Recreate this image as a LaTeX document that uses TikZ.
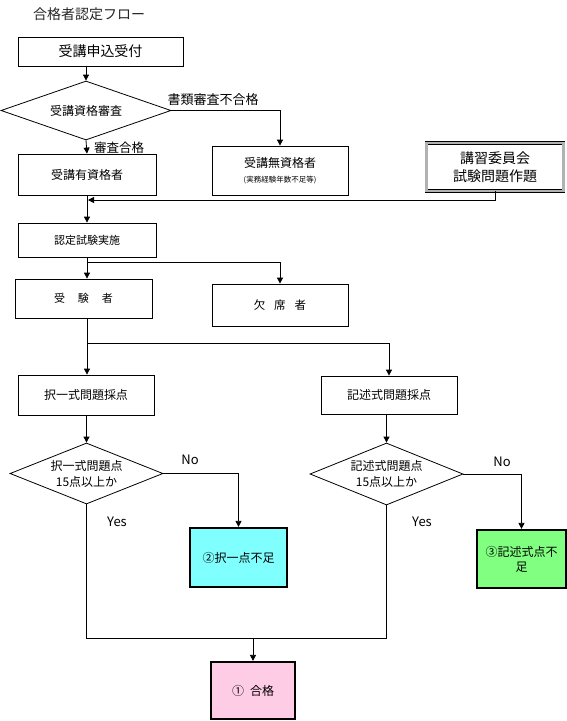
\documentclass[tikz,border=0pt]{standalone}
\usepackage{fontspec}
\setmainfont{Noto Sans CJK JP}
\usetikzlibrary{shapes.geometric,arrows.meta,calc}
\newcommand\fsz[2]{\fontsize{#1}{#2}\selectfont}
\definecolor{cyanc}{HTML}{80FFFF}
\definecolor{greenc}{HTML}{80FF80}
\definecolor{pinkc}{HTML}{FFCCE6}
\begin{document}
\begin{tikzpicture}[x=1pt,y=-1pt,
  box/.style={draw,line width=0.8pt,rectangle,inner sep=0pt,align=center},
  cbox/.style={draw,line width=2.2pt,rectangle,inner sep=0pt,align=center,font=\fsz{12}{15}},
  dia/.style={draw,line width=0.8pt,diamond,inner sep=0pt,align=center},
  ln/.style={line width=0.8pt},
  arr/.style={line width=0.8pt,-{Triangle[length=6pt,width=6pt]}},
  lbl/.style={inner sep=0pt}
]
\useasboundingbox[fill=white] (0,0) rectangle (567,721);

\node[lbl,anchor=west,font=\fsz{14}{16},text=black!85] (title) at (33,14) {合格者認定フロー};
\node[box,minimum width=165pt,minimum height=29pt,font=\fsz{14}{16}] (apply) at (100.5,51.5) {受講申込受付};
\node[dia,shape aspect=2.9,minimum width=170pt,minimum height=59pt,font=\fsz{12}{14}] (d1) at (86,110.5) {受講資格審査};
\node[box,minimum width=138pt,minimum height=41pt,font=\fsz{12}{14}] (qual) at (87,174.5) {受講有資格者};
\node[box,minimum width=136pt,minimum height=49pt] (unqual) at (280,170.5) {\fsz{12}{14}受講無資格者\\[3pt]\fsz{7.5}{9}(実務経験年数不足等)};
\node[draw,line width=0.8pt,double=gray!60,double distance=2.2pt,inner sep=0pt,minimum width=137pt,minimum height=48pt,align=center,font=\fsz{14}{18}] (comm) at (495,167) {講習委員会\\試験問題作題};

\node[box,minimum width=138pt,minimum height=34pt,font=\fsz{11}{13}] (exam) at (87,240) {認定試験実施};
\node[box,minimum width=137pt,minimum height=39pt,font=\fsz{11}{13}] (examinee) at (83.5,298.5) {受\hspace{13pt}験\hspace{13pt}者};
\node[box,minimum width=136pt,minimum height=42pt,font=\fsz{11.5}{13}] (absent) at (280,305) {欠\hspace{9pt}席\hspace{9pt}者};

\node[box,minimum width=136pt,minimum height=40pt,font=\fsz{12}{14}] (mc) at (86,395) {択一式問題採点};
\node[box,minimum width=136pt,minimum height=38pt,font=\fsz{12}{14}] (wr) at (389,395) {記述式問題採点};

\node[dia,shape aspect=2.5,minimum width=153pt,minimum height=61pt,font=\fsz{12}{16}] (d2) at (86.5,473.5) {択一式問題点\\15点以上か};
\node[dia,shape aspect=2.5,minimum width=153pt,minimum height=62pt,font=\fsz{12}{16}] (d3) at (386.5,474) {記述式問題点\\15点以上か};

\node[cbox,fill=cyanc,minimum width=97pt,minimum height=59pt] (cyan) at (238.5,557.5) {②択一点不足};
\node[cbox,fill=greenc,minimum width=89pt,minimum height=58pt] (green) at (521.5,559) {③記述式点不\\足};
\node[cbox,fill=pinkc,minimum width=84pt,minimum height=57pt] (pink) at (253,690.5) {①\hspace{6pt}合格};

\node[lbl,font=\fsz{13}{15}] (l1) at (213,100) {書類審査不合格};
\node[lbl,font=\fsz{12.5}{15}] (l2) at (119,148) {審査合格};
\node[lbl,font=\fsz{13}{15}] (no1) at (190,460) {No};
\node[lbl,font=\fsz{13}{15}] (no2) at (502,462) {No};
\node[lbl,font=\fsz{13}{15}] (yes1) at (117,522) {Yes};
\node[lbl,font=\fsz{13}{15}] (yes2) at (422,522) {Yes};

\draw[arr] (d1.north |- apply.south) -- (d1.north);
\draw[arr] (d1.east) -| (unqual.north);
\draw[arr] (d1.south) -- (qual.north);
\draw[arr] (qual.south) -- (exam.north);
\coordinate (fb) at (88,200);
\draw[arr] (comm.south) |- (fb);
\coordinate (b1) at (87,262);
\draw[arr] (exam.south) -- (exam.south |- examinee.north);
\draw[arr] (b1) -| (absent.north);
\coordinate (b2) at (87,343);
\draw[ln] (examinee.south -| b2) -- (b2);
\draw[arr] (b2) -- (mc.north -| b2);
\draw[arr] (b2) -| (wr.north);
\draw[arr] (mc.south -| d2.north) -- (d2.north);
\draw[arr] (d2.east) -| (cyan.north);
\draw[arr] (wr.south -| d3.north) -- (d3.north);
\draw[arr] (d3.east) -| (green.north);
\coordinate (j) at (253,638);
\draw[ln] (d2.south) |- (j);
\draw[ln] (d3.south) |- (j);
\draw[arr] (j) -- (pink.north);
\end{tikzpicture}
\end{document}
